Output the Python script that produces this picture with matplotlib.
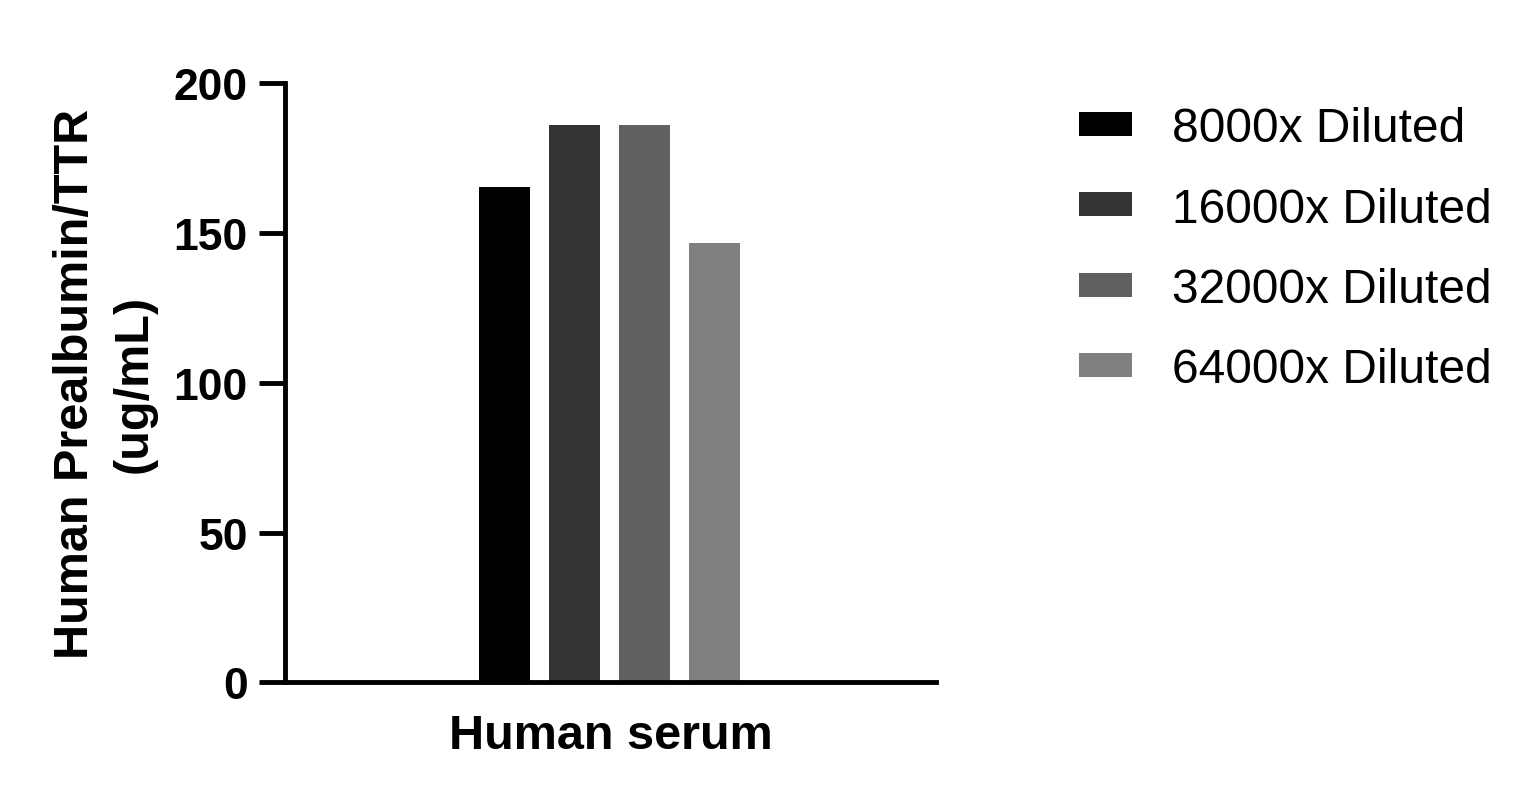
import matplotlib
matplotlib.use('Agg')
import matplotlib.pyplot as plt
import numpy as np

plt.rcParams['font.family'] = ['Liberation Sans', 'DejaVu Sans']

# data
group = 'Human serum'
dilutions = ['8000x Diluted', '16000x Diluted', '32000x Diluted', '64000x Diluted']
values = [165.2, 185.9, 185.9, 146.5]
colors = ['#000000', '#333333', '#606060', '#808080']
yticks = [0, 50, 100, 150, 200]

fig = plt.figure(figsize=(15.35, 8.04), dpi=100)
ax = fig.add_axes([0.1857, 0.1499, 0.4241, 0.7460])

x = np.arange(len(values))
for i, (v, c, lab) in enumerate(zip(values, colors, dilutions)):
    ax.bar(x[i], v, width=0.73, color=c, label=lab)

ax.set_xlim(-3.136, 6.164)
ax.set_ylim(0, 200)
ax.set_yticks(yticks)
ax.set_xticks([])

for s in ['top', 'right']:
    ax.spines[s].set_visible(False)
for s in ['left', 'bottom']:
    ax.spines[s].set_linewidth(3.5)
    ax.spines[s].set_capstyle('projecting')

ax.tick_params(axis='y', length=18.7, width=3.5, pad=8, labelsize=32)
for t in ax.get_yticklabels():
    t.set_fontweight('bold')

ax.set_ylabel('Human Prealbumin/TTR\n(ug/mL)', fontsize=35, fontweight='bold',
              labelpad=12, linespacing=1.4)
ax.set_xlabel(group, fontsize=35, fontweight='bold', labelpad=22)

leg = ax.legend(loc='upper left', bbox_to_anchor=(1.19, 0.993), frameon=False,
                fontsize=34.5, handlelength=1.1, handleheight=0.4,
                handletextpad=0.85, labelspacing=0.74, borderaxespad=0)

fig.savefig('out.png', dpi=100)
